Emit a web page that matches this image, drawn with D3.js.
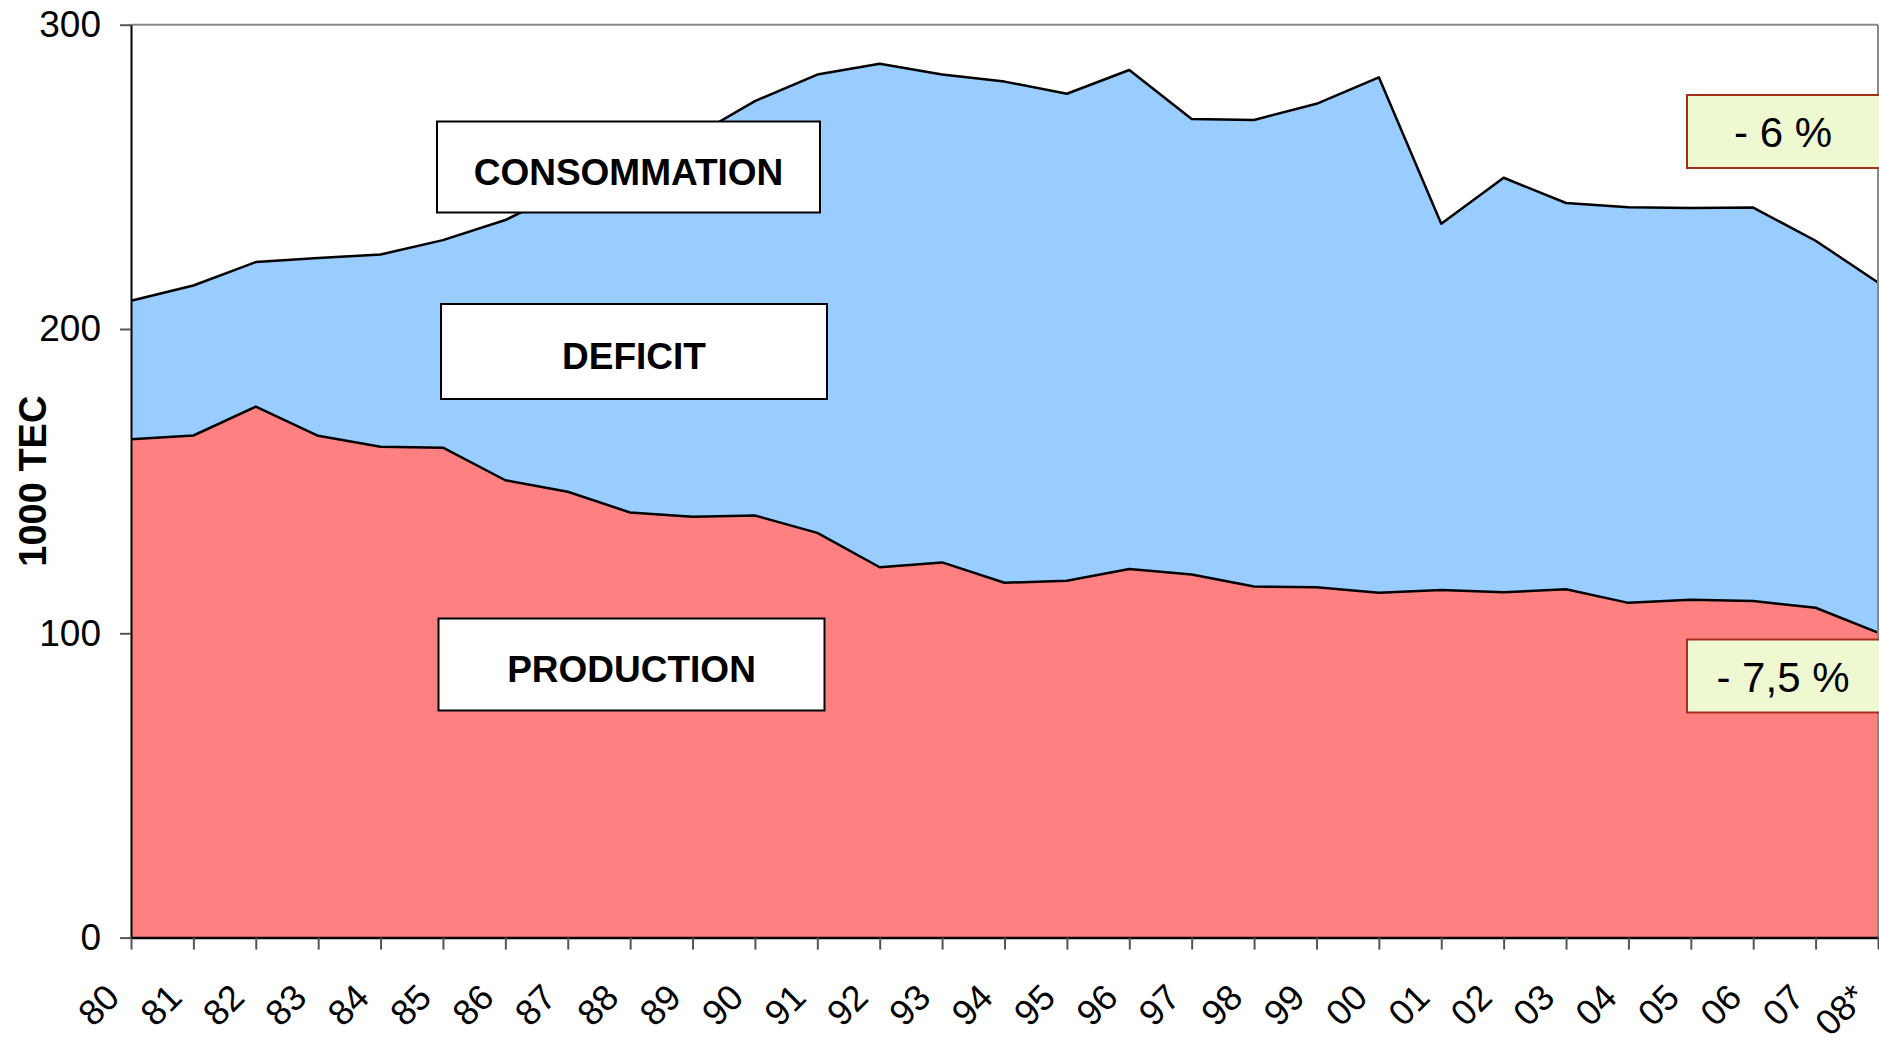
<!DOCTYPE html>
<html>
<head>
<meta charset="utf-8">
<script src="https://cdn.jsdelivr.net/npm/d3@7"></script>
<style>
  body { margin: 0; background: #fff; }
  svg { display: block; font-family: "Liberation Sans", Arial, sans-serif; }
</style>
</head>
<body>
<svg></svg>
<script>
// years on the category axis
var years = ['80','81','82','83','84','85','86','87','88','89','90','91','92','93','94',
             '95','96','97','98','99','00','01','02','03','04','05','06','07','08*'];

// 1000 TEC
var production = [163.8, 165, 174.5, 164.9, 161.3, 161, 150.3, 146.5, 139.7, 138.3,
                  138.7, 133, 121.7, 123.3, 116.6, 117.3, 121.1, 119.3, 115.4, 115.1,
                  113.3, 114.2, 113.5, 114.5, 110, 111, 110.6, 108.4, 100.2];

var consommation = [209.3, 214.3, 222, 223.3, 224.5, 229.2, 235.8, 246, 254, 263,
                    274.9, 283.6, 287.2, 283.6, 281.3, 277.3, 285.1, 269, 268.7, 274,
                    282.7, 234.6, 249.7, 241.4, 240, 239.8, 239.9, 229, 215.3];

var yTicks = [0, 100, 200, 300];

var seriesLabels = ['CONSOMMATION', 'DEFICIT', 'PRODUCTION'];
var changeLabels = ['- 6 %', '- 7,5 %'];

var width = 1879;
var height = 1038;
// plot edges (note: "top" is taken by window.top)
var plotLeft = 131, plotRight = 1878, plotTop = 24.7, plotBottom = 937.6;

var data = years.map(function(y, i){
  return {year: y, prod: production[i], cons: consommation[i]};
});

var svg = d3.select('svg')
            .attr('width', width)
            .attr('height', height);

var xScale = d3.scalePoint()
               .domain(years)
               .range([plotLeft, plotRight]);

var yScale = d3.scaleLinear()
               .domain([0, 300])
               .range([plotBottom, plotTop]);

// consumption area (deficit shows between the two curves)
svg.append('path')
  .datum(data)
    .attr('fill', '#99CCFF')
    .attr('d', d3.area()
      .x(d => xScale(d.year))
      .y0(yScale(0))
      .y1(d => yScale(d.cons)));

svg.append('path')
  .datum(data)
    .attr('fill', '#FF8080')
    .attr('d', d3.area()
      .x(d => xScale(d.year))
      .y0(yScale(0))
      .y1(d => yScale(d.prod)));

svg.append('path')
  .datum(data)
    .attr('fill', 'none')
    .attr('stroke', '#000')
    .attr('stroke-width', 2.5)
    .attr('stroke-linejoin', 'round')
    .attr('d', d3.line()
      .x(d => xScale(d.year))
      .y(d => yScale(d.cons)));

svg.append('path')
  .datum(data)
    .attr('fill', 'none')
    .attr('stroke', '#000')
    .attr('stroke-width', 2.5)
    .attr('stroke-linejoin', 'round')
    .attr('d', d3.line()
      .x(d => xScale(d.year))
      .y(d => yScale(d.prod)));

// plot frame, top and right in grey
svg.append('line')
  .attr('x1', plotLeft).attr('x2', plotRight)
  .attr('y1', yScale(300)).attr('y2', yScale(300))
  .attr('stroke', '#888').attr('stroke-width', 2);

svg.append('line')
  .attr('x1', plotRight).attr('x2', plotRight)
  .attr('y1', plotTop).attr('y2', plotBottom)
  .attr('stroke', '#888').attr('stroke-width', 2);

var yAxis = svg.append('g')
  .attr('transform', `translate(${plotLeft},0)`)
  .call(d3.axisLeft(yScale)
          .tickValues(yTicks)
          .tickSize(11)
          .tickSizeOuter(0)
          .tickPadding(19));

yAxis.select('.domain').attr('stroke', '#000').attr('stroke-width', 2);
yAxis.selectAll('.tick line').attr('stroke', '#555').attr('stroke-width', 2);
yAxis.selectAll('.tick text')
  .attr('fill', '#000')
  .style('font-size', '37px')
  .style('font-family', '"Liberation Sans", Arial, sans-serif');

var xAxis = svg.append('g')
  .attr('transform', `translate(0,${plotBottom})`)
  .call(d3.axisBottom(xScale)
          .tickSize(12)
          .tickSizeOuter(0));

xAxis.select('.domain').attr('stroke', '#000').attr('stroke-width', 2.5);
xAxis.selectAll('.tick line').attr('stroke', '#555').attr('stroke-width', 2);
xAxis.selectAll('.tick text')
  .attr('y', 0)
  .attr('dy', 0)
  .attr('fill', '#000')
  .attr('transform', 'translate(-10,62) rotate(-45)')
  .style('text-anchor', 'end')
  .style('font-size', '36px')
  .style('font-family', '"Liberation Sans", Arial, sans-serif');

// y axis title
svg.append('text')
  .attr('transform', `translate(46,${(plotTop + plotBottom) / 2}) rotate(-90)`)
  .style('text-anchor', 'middle')
  .style('font-weight', 'bold')
  .style('font-size', '38px')
  .text('1000 TEC');

// white label boxes
var labelBoxes = [
  {x: 437, y: 121.5, w: 383, h: 91},
  {x: 441, y: 304, w: 386, h: 95},
  {x: 438.5, y: 618.5, w: 386, h: 92}
];

var labels = svg.selectAll('g.label')
  .data(seriesLabels)
  .enter()
  .append('g')
    .classed('label', true)
    .attr('transform', (d, i) => `translate(${labelBoxes[i].x},${labelBoxes[i].y})`);

labels.append('rect')
  .attr('width', (d, i) => labelBoxes[i].w)
  .attr('height', (d, i) => labelBoxes[i].h)
  .attr('fill', '#fff')
  .attr('stroke', '#000')
  .attr('stroke-width', 2);

labels.append('text')
  .attr('x', (d, i) => labelBoxes[i].w / 2)
  .attr('y', (d, i) => labelBoxes[i].h / 2)
  .attr('dy', '0.48em')
  .style('text-anchor', 'middle')
  .style('font-weight', 'bold')
  .style('font-size', '37px')
  .text(d => d);

// change boxes on the right
var changeBoxes = [
  {x: 1687, y: 95, w: 196, h: 73},
  {x: 1687, y: 639.5, w: 196, h: 73}
];

var changes = svg.selectAll('g.change')
  .data(changeLabels)
  .enter()
  .append('g')
    .classed('change', true)
    .attr('transform', (d, i) => `translate(${changeBoxes[i].x},${changeBoxes[i].y})`);

changes.append('rect')
  .attr('width', (d, i) => changeBoxes[i].w)
  .attr('height', (d, i) => changeBoxes[i].h)
  .attr('fill', '#EEF9D2')
  .attr('stroke', '#A3301A')
  .attr('stroke-width', 2);

changes.append('text')
  .attr('x', 96)
  .attr('y', (d, i) => changeBoxes[i].h / 2)
  .attr('dy', '0.38em')
  .style('text-anchor', 'middle')
  .style('font-size', '42px')
  .text(d => d);
</script>
</body>
</html>
